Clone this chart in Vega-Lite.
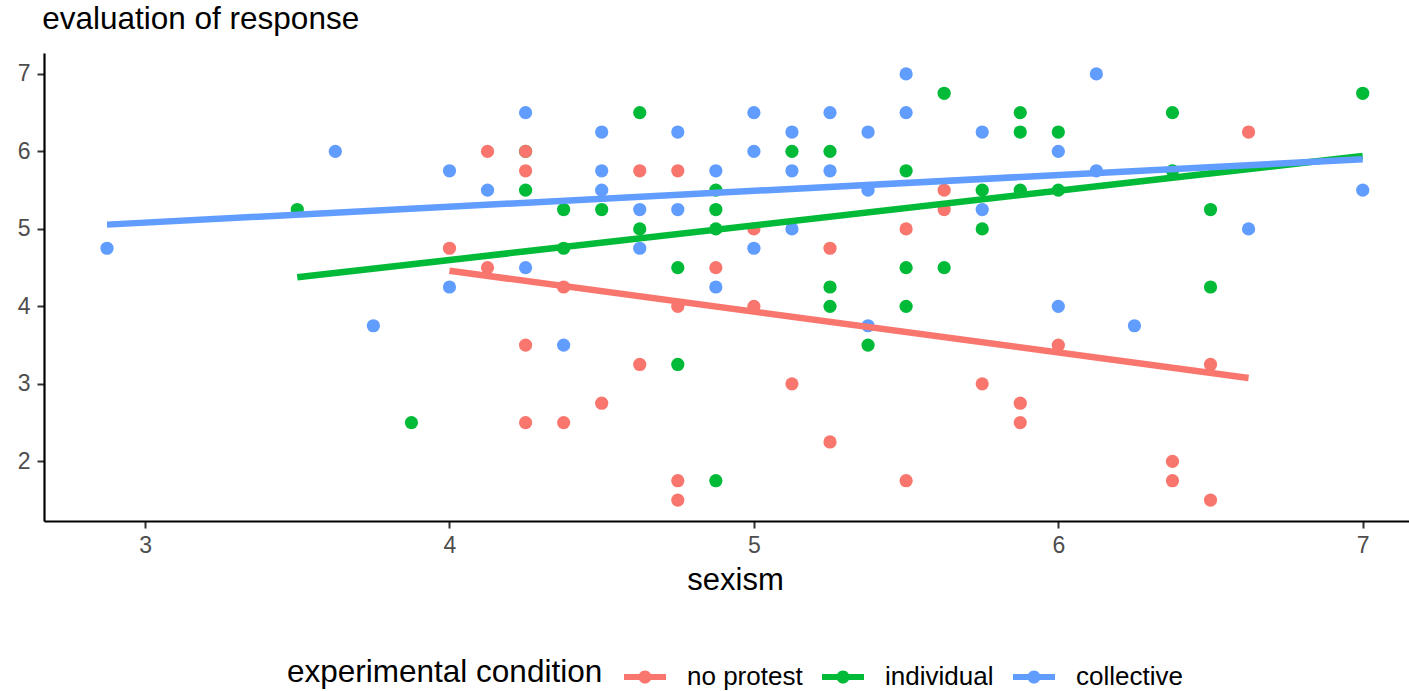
{
  "$schema": "https://vega.github.io/schema/vega-lite/v6.json",
  "width": 1365,
  "height": 468,
  "autosize": {"type": "none"},
  "padding": {"left": 44, "top": 53, "right": 0, "bottom": 170},
  "background": "white",
  "config": {
    "view": {"stroke": null},
    "font": "Liberation Sans",
    "axis": {
      "grid": false,
      "domainColor": "black",
      "domainWidth": 2.2,
      "tickColor": "#333333",
      "tickWidth": 2,
      "tickSize": 7,
      "labelColor": "#4D4D4D",
      "labelFontSize": 22,
      "labelFont": "Liberation Sans",
      "titleFont": "Liberation Sans",
      "titleFontWeight": "normal",
      "titleColor": "black",
      "titleFontSize": 31
    },
    "legend": {
      "labelFont": "Liberation Sans",
      "titleFont": "Liberation Sans"
    }
  },
  "datasets": {
    "points": [
      {"condition": "no protest", "sexism": 4, "response": 4.75},
      {"condition": "no protest", "sexism": 4.125, "response": 6},
      {"condition": "no protest", "sexism": 4.125, "response": 4.5},
      {"condition": "no protest", "sexism": 4.25, "response": 5.75},
      {"condition": "no protest", "sexism": 4.25, "response": 3.5},
      {"condition": "no protest", "sexism": 4.25, "response": 2.5},
      {"condition": "no protest", "sexism": 4.375, "response": 4.25},
      {"condition": "no protest", "sexism": 4.375, "response": 2.5},
      {"condition": "no protest", "sexism": 4.5, "response": 2.75},
      {"condition": "no protest", "sexism": 4.625, "response": 5.75},
      {"condition": "no protest", "sexism": 4.625, "response": 3.25},
      {"condition": "no protest", "sexism": 4.75, "response": 5.75},
      {"condition": "no protest", "sexism": 4.75, "response": 4},
      {"condition": "no protest", "sexism": 4.75, "response": 1.75},
      {"condition": "no protest", "sexism": 4.75, "response": 1.5},
      {"condition": "no protest", "sexism": 4.875, "response": 4.5},
      {"condition": "no protest", "sexism": 5, "response": 5},
      {"condition": "no protest", "sexism": 5, "response": 4},
      {"condition": "no protest", "sexism": 5.125, "response": 3},
      {"condition": "no protest", "sexism": 5.25, "response": 4.75},
      {"condition": "no protest", "sexism": 5.25, "response": 2.25},
      {"condition": "no protest", "sexism": 5.5, "response": 5},
      {"condition": "no protest", "sexism": 5.5, "response": 1.75},
      {"condition": "no protest", "sexism": 5.625, "response": 5.5},
      {"condition": "no protest", "sexism": 5.625, "response": 5.25},
      {"condition": "no protest", "sexism": 5.75, "response": 3},
      {"condition": "no protest", "sexism": 5.875, "response": 2.75},
      {"condition": "no protest", "sexism": 5.875, "response": 2.5},
      {"condition": "no protest", "sexism": 6, "response": 3.5},
      {"condition": "no protest", "sexism": 6.375, "response": 2},
      {"condition": "no protest", "sexism": 6.375, "response": 1.75},
      {"condition": "no protest", "sexism": 6.5, "response": 3.25},
      {"condition": "no protest", "sexism": 6.5, "response": 1.5},
      {"condition": "no protest", "sexism": 6.625, "response": 6.25},
      {"condition": "individual", "sexism": 3.5, "response": 5.25},
      {"condition": "individual", "sexism": 3.875, "response": 2.5},
      {"condition": "individual", "sexism": 4.25, "response": 6},
      {"condition": "individual", "sexism": 4.25, "response": 5.5},
      {"condition": "individual", "sexism": 4.375, "response": 5.25},
      {"condition": "individual", "sexism": 4.375, "response": 4.75},
      {"condition": "individual", "sexism": 4.5, "response": 5.25},
      {"condition": "individual", "sexism": 4.625, "response": 6.5},
      {"condition": "individual", "sexism": 4.625, "response": 5},
      {"condition": "individual", "sexism": 4.75, "response": 4.5},
      {"condition": "individual", "sexism": 4.75, "response": 3.25},
      {"condition": "individual", "sexism": 4.875, "response": 5.5},
      {"condition": "individual", "sexism": 4.875, "response": 5.25},
      {"condition": "individual", "sexism": 4.875, "response": 5},
      {"condition": "individual", "sexism": 4.875, "response": 1.75},
      {"condition": "individual", "sexism": 5.125, "response": 6},
      {"condition": "individual", "sexism": 5.25, "response": 6},
      {"condition": "individual", "sexism": 5.25, "response": 4.25},
      {"condition": "individual", "sexism": 5.25, "response": 4},
      {"condition": "individual", "sexism": 5.375, "response": 3.5},
      {"condition": "individual", "sexism": 5.5, "response": 5.75},
      {"condition": "individual", "sexism": 5.5, "response": 4.5},
      {"condition": "individual", "sexism": 5.5, "response": 4},
      {"condition": "individual", "sexism": 5.625, "response": 6.75},
      {"condition": "individual", "sexism": 5.625, "response": 4.5},
      {"condition": "individual", "sexism": 5.75, "response": 5.5},
      {"condition": "individual", "sexism": 5.75, "response": 5},
      {"condition": "individual", "sexism": 5.875, "response": 6.5},
      {"condition": "individual", "sexism": 5.875, "response": 6.25},
      {"condition": "individual", "sexism": 5.875, "response": 5.5},
      {"condition": "individual", "sexism": 6, "response": 6.25},
      {"condition": "individual", "sexism": 6, "response": 5.5},
      {"condition": "individual", "sexism": 6.375, "response": 6.5},
      {"condition": "individual", "sexism": 6.375, "response": 5.75},
      {"condition": "individual", "sexism": 6.5, "response": 5.25},
      {"condition": "individual", "sexism": 6.5, "response": 4.25},
      {"condition": "individual", "sexism": 7, "response": 6.75},
      {"condition": "no protest", "sexism": 4.25, "response": 6},
      {"condition": "collective", "sexism": 2.875, "response": 4.75},
      {"condition": "collective", "sexism": 3.625, "response": 6},
      {"condition": "collective", "sexism": 3.75, "response": 3.75},
      {"condition": "collective", "sexism": 4, "response": 5.75},
      {"condition": "collective", "sexism": 4, "response": 4.25},
      {"condition": "collective", "sexism": 4.125, "response": 5.5},
      {"condition": "collective", "sexism": 4.25, "response": 6.5},
      {"condition": "collective", "sexism": 4.25, "response": 4.5},
      {"condition": "collective", "sexism": 4.375, "response": 3.5},
      {"condition": "collective", "sexism": 4.5, "response": 6.25},
      {"condition": "collective", "sexism": 4.5, "response": 5.75},
      {"condition": "collective", "sexism": 4.5, "response": 5.5},
      {"condition": "collective", "sexism": 4.625, "response": 5.25},
      {"condition": "collective", "sexism": 4.625, "response": 4.75},
      {"condition": "collective", "sexism": 4.75, "response": 6.25},
      {"condition": "collective", "sexism": 4.75, "response": 5.25},
      {"condition": "collective", "sexism": 4.875, "response": 5.75},
      {"condition": "collective", "sexism": 4.875, "response": 4.25},
      {"condition": "collective", "sexism": 5, "response": 6.5},
      {"condition": "collective", "sexism": 5, "response": 6},
      {"condition": "collective", "sexism": 5, "response": 4.75},
      {"condition": "collective", "sexism": 5.125, "response": 6.25},
      {"condition": "collective", "sexism": 5.125, "response": 5.75},
      {"condition": "collective", "sexism": 5.125, "response": 5},
      {"condition": "collective", "sexism": 5.25, "response": 6.5},
      {"condition": "collective", "sexism": 5.25, "response": 5.75},
      {"condition": "collective", "sexism": 5.375, "response": 6.25},
      {"condition": "collective", "sexism": 5.375, "response": 5.5},
      {"condition": "collective", "sexism": 5.375, "response": 3.75},
      {"condition": "collective", "sexism": 5.5, "response": 7},
      {"condition": "collective", "sexism": 5.5, "response": 6.5},
      {"condition": "collective", "sexism": 5.75, "response": 6.25},
      {"condition": "collective", "sexism": 5.75, "response": 5.25},
      {"condition": "collective", "sexism": 6, "response": 6},
      {"condition": "collective", "sexism": 6, "response": 4},
      {"condition": "collective", "sexism": 6.125, "response": 7},
      {"condition": "collective", "sexism": 6.125, "response": 5.75},
      {"condition": "collective", "sexism": 6.25, "response": 3.75},
      {"condition": "collective", "sexism": 6.625, "response": 5},
      {"condition": "collective", "sexism": 7, "response": 5.5}
    ],
    "fits": [
      {"condition": "no protest", "sexism": 4, "response": 4.46},
      {"condition": "no protest", "sexism": 6.625, "response": 3.075},
      {"condition": "individual", "sexism": 3.5, "response": 4.375},
      {"condition": "individual", "sexism": 7, "response": 5.94},
      {"condition": "collective", "sexism": 2.875, "response": 5.055},
      {"condition": "collective", "sexism": 7, "response": 5.9}
    ]
  },
  "layer": [
    {
      "data": {"name": "points"},
      "mark": {"type": "point", "filled": true, "shape": "circle", "size": 175, "opacity": 1, "strokeWidth": 0},
      "encoding": {
        "x": {
          "field": "sexism", "type": "quantitative",
          "scale": {"domain": [2.668, 7.152], "nice": false, "zero": false},
          "axis": {"values": [3, 4, 5, 6, 7], "format": "d", "labelFontSize": 23, "title": "sexism", "labelPadding": 6, "titleX": 691, "titleY": 68, "titleBaseline": "alphabetic"}
        },
        "y": {
          "field": "response", "type": "quantitative",
          "scale": {"domain": [1.23, 7.27], "nice": false, "zero": false},
          "axis": {"values": [2, 3, 4, 5, 6, 7], "format": "d", "labelFontSize": 23, "title": "evaluation of response", "titleFontSize": 31.5, "titleAngle": 0, "titleAlign": "left", "titleBaseline": "alphabetic", "titleX": -2.3, "titleY": -24.7, "labelPadding": 7}
        },
        "color": {
          "field": "condition", "type": "nominal",
          "scale": {"domain": ["no protest", "individual", "collective"], "range": ["#F8766D", "#00BA38", "#619CFF"]},
          "legend": {
            "title": "experimental condition",
            "orient": "none",
            "direction": "horizontal",
            "legendX": 243,
            "legendY": 603,
            "padding": 0,
            "titleOrient": "left",
            "titleFontSize": 31.5,
            "titleFontWeight": "normal",
            "titleColor": "black",
            "titleBaseline": "middle",
            "titlePadding": 21,
            "titleLimit": 1000,
            "labelLimit": 1000,
            "labelFontSize": 26,
            "labelColor": "black",
            "labelOffset": 21,
            "columnPadding": 19,
            "symbolType": "M-1,-0.14L1,-0.14L1,0.14L-1,0.14Z M0.31,0 A0.31,0.31 0 1 1 -0.31,0 A0.31,0.31 0 1 1 0.31,0 Z",
            "symbolSize": 1764,
            "symbolStrokeWidth": 0,
            "symbolOpacity": 1
          }
        }
      }
    },
    {
      "data": {"name": "fits"},
      "mark": {"type": "line", "strokeWidth": 6.5},
      "encoding": {
        "x": {"field": "sexism", "type": "quantitative"},
        "y": {"field": "response", "type": "quantitative"},
        "color": {"field": "condition", "type": "nominal"},
        "detail": {"field": "condition"}
      }
    }
  ]
}
